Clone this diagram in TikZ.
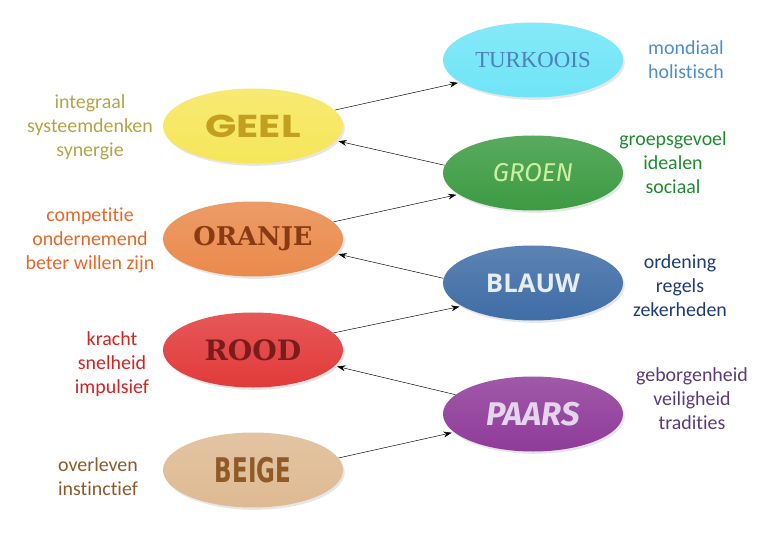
\documentclass[tikz,border=0pt]{standalone}
\usepackage{fontspec}
\usepackage{graphicx}
\usetikzlibrary{arrows.meta,shadows,shapes.geometric}
\setmainfont{Carlito}[RawFeature={-liga;-clig;-calt;-dlig;-rlig}]
\newfontfamily\geelfont{Poppins}
\newfontfamily\turkfont{Liberation Serif}
\newfontfamily\groenfont{Fira Sans}
\newfontfamily\oranjefont{DejaVu Serif}
\newfontfamily\blauwfont{Open Sans}
\newfontfamily\roodfont{DejaVu Serif}
\newfontfamily\paarsfont{Fira Sans}
\newfontfamily\beigefont{DejaVu Sans Condensed}

\definecolor{turkC}{HTML}{6FE5F7}
\definecolor{geelC}{HTML}{F6E65A}
\definecolor{groenC}{HTML}{3C9B42}
\definecolor{oranjeC}{HTML}{EA8A4C}
\definecolor{blauwC}{HTML}{3F6DA6}
\definecolor{roodC}{HTML}{E23A3A}
\definecolor{paarsC}{HTML}{8F3B99}
\definecolor{beigeC}{HTML}{DEBA92}
\definecolor{turkT}{HTML}{4C80BA}
\definecolor{geelT}{HTML}{C49E1E}
\definecolor{groenT}{HTML}{CDEFA2}
\definecolor{oranjeT}{HTML}{8A3A12}
\definecolor{blauwT}{HTML}{E6EDF5}
\definecolor{roodT}{HTML}{7B1C1C}
\definecolor{paarsT}{HTML}{E4D4EC}
\definecolor{beigeT}{HTML}{8F5A28}
\definecolor{geelS}{HTML}{B3A545}
\definecolor{oranjeS}{HTML}{E6672A}
\definecolor{roodS}{HTML}{D22222}
\definecolor{beigeS}{HTML}{8A5A2C}
\definecolor{turkS}{HTML}{4A8FC9}
\definecolor{groenS}{HTML}{1E8A2E}
\definecolor{blauwS}{HTML}{1F3B78}
\definecolor{paarsS}{HTML}{5B3B78}

\begin{document}
\begin{tikzpicture}[x=0.03cm, y=-0.03cm,
  kleur/.style={ellipse, minimum width=5.4cm, minimum height=2.25cm, inner sep=0pt,
    top color=#1!85!white, bottom color=#1,
    drop shadow={shadow xshift=1.5pt, shadow yshift=-2pt, opacity=.2}},
  kenmerk/.style={align=center, font=\fontsize{17}{20.5}\selectfont},
  pijl/.style={-{Stealth[length=7pt,width=5pt]}, thin, shorten >=2pt}]
\useasboundingbox (0,0) rectangle (778,536);

% spiraal, links
\node[kleur=geelC] (geel) at (253,126) {\color{geelT}\geelfont\bfseries\fontsize{27}{27}\selectfont\scalebox{1.3}[1]{GEEL}};
\node[kleur=oranjeC] (oranje) at (253,239) {\color{oranjeT}\oranjefont\bfseries\fontsize{22}{22}\selectfont ORANJE};
\node[kleur=roodC] (rood) at (253,350) {\color{roodT}\roodfont\bfseries\fontsize{24}{24}\selectfont ROOD};
\node[kleur=beigeC] (beige) at (253,470) {\color{beigeT}\beigefont\bfseries\fontsize{29}{29}\selectfont\scalebox{0.75}[1]{BEIGE}};
% spiraal, rechts
\node[kleur=turkC] (turk) at (533,60) {\color{turkT}\turkfont\fontsize{19.5}{20}\selectfont TURKOOIS};
\node[kleur=groenC] (groen) at (533,173) {\color{groenT}\groenfont\itshape\fontsize{22}{22}\selectfont GROEN};
\node[kleur=blauwC] (blauw) at (533,283) {\color{blauwT}\blauwfont\bfseries\fontsize{22}{22}\selectfont BLAUW};
\node[kleur=paarsC] (paars) at (533,414) {\color{paarsT}\paarsfont\bfseries\itshape\fontsize{28}{28}\selectfont PAARS};

% kenmerken
\node[kenmerk, text=geelS] (tgeel) at (90,127) {integraal\\systeemdenken\\synergie};
\node[kenmerk, text=oranjeS] (toranje) at (90,240) {competitie\\ondernemend\\beter willen zijn};
\node[kenmerk, text=roodS] (trood) at (112,364) {kracht\\snelheid\\impulsief};
\node[kenmerk, text=beigeS] (tbeige) at (98,477) {overleven\\instinctief};
\node[kenmerk, text=turkS] (tturk) at (686,60) {mondiaal\\holistisch};
\node[kenmerk, text=groenS] (tgroen) at (673,163) {groepsgevoel\\idealen\\sociaal};
\node[kenmerk, text=blauwS] (tblauw) at (680,286) {ordening\\regels\\zekerheden};
\node[kenmerk, text=paarsS] (tpaars) at (692,399) {geborgenheid\\veiligheid\\tradities};

% pijlen
\draw[pijl] (beige.8) -- (paars.193);
\draw[pijl] (paars.166) -- (rood.349);
\draw[pijl] (rood.12) -- (blauw.198);
\draw[pijl] (blauw.177) -- (oranje.350);
\draw[pijl] (oranje.12) -- (groen.196);
\draw[pijl] (groen.175) -- (geel.350);
\draw[pijl] (geel.11) -- (turk.197);
\end{tikzpicture}
\end{document}
